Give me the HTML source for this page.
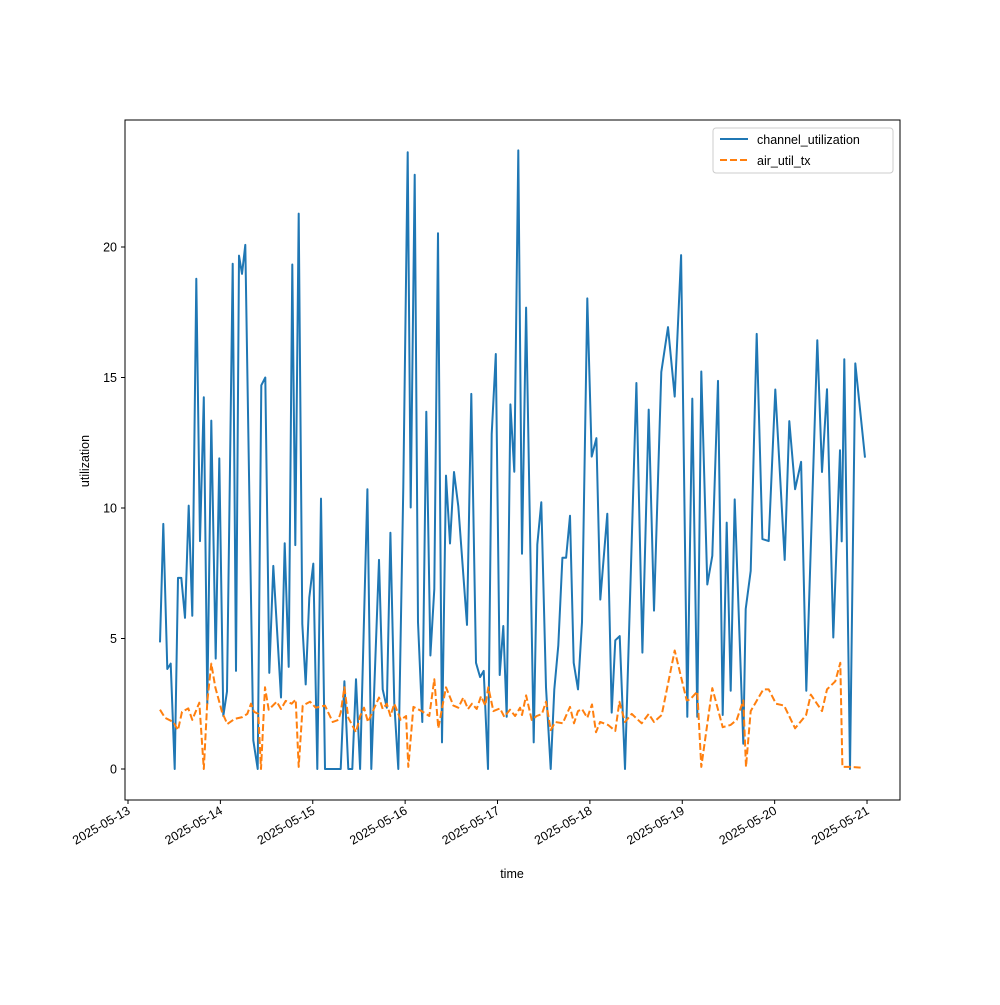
<!DOCTYPE html>
<html><head><meta charset="utf-8"><style>
body{margin:0;background:#fff}
svg text{font-family:"Liberation Sans","DejaVu Sans",sans-serif;font-size:12.5px;fill:#000}
</style></head><body>
<svg id="chart" width="1000" height="1000" viewBox="0 0 1000 1000" xmlns="http://www.w3.org/2000/svg">
<rect width="1000" height="1000" fill="#fff"/>
<g id="plot"></g>
<rect x="125" y="120" width="775" height="680" fill="none" stroke="#000" stroke-width="1"/>
<text transform="translate(89,461) rotate(-90)" text-anchor="middle">utilization</text>
<text x="512" y="878" text-anchor="middle">time</text>
<g>
<rect x="713" y="128" width="180" height="45" rx="3" fill="#fff" fill-opacity="0.8" stroke="#ccc"/>
<line x1="720" y1="139" x2="748" y2="139" stroke="#1f77b4" stroke-width="2"/>
<text x="757" y="144">channel_utilization</text>
<line x1="720" y1="160" x2="748" y2="160" stroke="#ff7f0e" stroke-width="2" stroke-dasharray="7,3"/>
<text x="757" y="165">air_util_tx</text>
</g>
</svg>
<script>
const xTickLabels=["2025-05-13","2025-05-14","2025-05-15","2025-05-16","2025-05-17","2025-05-18","2025-05-19","2025-05-20","2025-05-21"];
const yTickValues=[0,5,10,15,20];
const chTimes=[0.346,0.382,0.425,0.462,0.506,0.541,0.577,0.617,0.657,0.696,0.739,0.779,0.820,0.858,0.902,0.949,0.988,1.032,1.072,1.133,1.169,1.202,1.234,1.270,1.356,1.404,1.443,1.486,1.530,1.573,1.656,1.696,1.740,1.779,1.811,1.848,1.887,1.924,1.963,2.006,2.049,2.089,2.133,2.303,2.342,2.385,2.428,2.468,2.512,2.591,2.634,2.717,2.757,2.801,2.840,2.883,2.926,2.980,3.028,3.060,3.104,3.139,3.186,3.229,3.273,3.316,3.356,3.399,3.442,3.486,3.529,3.576,3.670,3.716,3.767,3.811,3.851,3.897,3.937,3.981,4.024,4.063,4.100,4.139,4.182,4.225,4.265,4.309,4.392,4.431,4.474,4.525,4.576,4.615,4.658,4.702,4.742,4.785,4.825,4.871,4.915,4.972,5.020,5.070,5.113,5.189,5.236,5.275,5.323,5.380,5.503,5.568,5.637,5.694,5.773,5.846,5.918,5.987,6.055,6.109,6.163,6.206,6.271,6.325,6.387,6.438,6.481,6.524,6.568,6.661,6.687,6.741,6.806,6.867,6.936,7.007,7.109,7.159,7.221,7.286,7.343,7.462,7.513,7.567,7.635,7.708,7.726,7.754,7.816,7.873,7.978];
const chValues=[4.85,9.39,3.83,4.04,0,7.32,7.32,5.79,10.09,5.87,18.78,8.73,14.24,2.5,13.35,4.23,11.9,2.03,2.97,19.36,3.76,19.67,18.97,20.08,1.1,0,14.7,15.0,3.68,7.78,2.74,8.65,3.91,19.33,8.58,21.28,5.56,3.24,6.57,7.87,0,10.36,0,0,3.36,0,0,3.44,0,10.72,0,8.01,3.05,2.35,9.05,2.5,0,10.8,23.63,10.02,22.77,5.63,1.8,13.69,4.35,6.89,20.53,1.02,11.24,8.64,11.38,10.06,5.52,14.37,4.07,3.52,3.76,0,12.83,15.9,3.6,5.48,2.0,13.97,11.39,23.7,8.25,17.68,1.02,8.6,10.22,3.13,0,3.05,4.73,8.09,8.09,9.7,4.07,3.05,5.63,18.03,11.97,12.68,6.49,9.78,2.16,4.93,5.09,0,14.79,4.46,13.77,6.07,15.21,16.93,14.27,19.69,2.0,14.19,2.0,15.23,7.07,8.17,14.87,2.07,9.44,3.0,10.33,0.97,6.13,7.59,16.67,8.81,8.73,14.54,8.01,13.33,10.72,11.77,3.0,16.43,11.38,14.55,5.04,12.21,8.72,15.7,0,15.54,11.93];
const airTimes=[0.346,0.401,0.490,0.541,0.585,0.653,0.696,0.772,0.820,0.858,0.902,0.945,1.018,1.075,1.155,1.237,1.291,1.332,1.364,1.411,1.440,1.483,1.523,1.610,1.656,1.707,1.772,1.815,1.848,1.891,1.970,2.032,2.133,2.216,2.277,2.303,2.342,2.385,2.468,2.512,2.555,2.598,2.717,2.757,2.801,2.840,2.883,2.952,3.010,3.034,3.089,3.179,3.262,3.316,3.359,3.442,3.522,3.576,3.630,3.681,3.724,3.775,3.821,3.868,3.900,3.955,4.027,4.074,4.135,4.190,4.244,4.265,4.309,4.370,4.424,4.482,4.525,4.576,4.626,4.706,4.785,4.828,4.871,4.915,4.972,5.023,5.066,5.110,5.196,5.275,5.319,5.380,5.453,5.561,5.637,5.694,5.777,5.918,6.048,6.084,6.163,6.206,6.325,6.438,6.524,6.589,6.661,6.690,6.741,6.877,6.936,7.015,7.102,7.221,7.340,7.391,7.513,7.567,7.657,7.711,7.733,7.816,7.949];
const airValues=[2.27,1.96,1.8,1.49,2.19,2.32,1.88,2.54,0.0,2.58,4.04,3.13,2.19,1.72,1.92,1.99,2.11,2.5,2.19,2.11,0,3.13,2.27,2.58,2.3,2.61,2.5,2.66,0.08,2.43,2.58,2.35,2.43,1.8,1.88,2.16,3.13,1.96,1.41,2.03,2.35,1.8,2.74,2.3,2.5,2.03,2.5,1.88,2.03,0.08,2.38,2.22,2.03,3.44,1.56,3.13,2.43,2.35,2.74,2.3,2.5,2.3,2.79,2.43,3.13,2.22,2.32,2.0,2.27,2.03,2.35,2.07,2.82,1.88,2.03,2.11,2.58,1.49,1.8,1.75,2.38,1.75,2.22,2.3,1.96,2.47,1.41,1.8,1.69,1.46,2.58,1.8,2.11,1.75,2.11,1.8,2.07,4.54,2.63,2.66,2.97,0.08,3.1,1.6,1.69,1.88,2.63,0.08,2.22,3.05,3.05,2.5,2.43,1.56,2.07,2.85,2.22,3.05,3.36,4.07,0.08,0.08,0.05];

const NS="http://www.w3.org/2000/svg";
const X0=125,X1=900,Y0=800,Y1=120;
const dMin=-0.0325,dMax=8.357,vMin=-1.188,vMax=24.866;
function xs(d){return X0+(d-dMin)/(dMax-dMin)*(X1-X0);}
function ys(v){return Y0-(v-vMin)/(vMax-vMin)*(Y0-Y1);}
const plot=document.getElementById('plot');
const svg=document.getElementById('chart');

yTickValues.forEach(v=>{
  const y=ys(v);
  const t=document.createElementNS(NS,'line');
  t.setAttribute('x1',X0-4);t.setAttribute('x2',X0);t.setAttribute('y1',y);t.setAttribute('y2',y);
  t.setAttribute('stroke','#000');
  
  
  svg.appendChild(t);
  const l=document.createElementNS(NS,'text');
  l.setAttribute('x',X0-8);l.setAttribute('y',y+4.5);l.setAttribute('text-anchor','end');
  l.textContent=String(v);
  
  
  svg.appendChild(l);
});
xTickLabels.forEach((s,i)=>{
  const x=xs(i);
  const t=document.createElementNS(NS,'line');
  t.setAttribute('x1',x);t.setAttribute('x2',x);t.setAttribute('y1',Y0);t.setAttribute('y2',Y0+4);
  t.setAttribute('stroke','#000');
  
  
  svg.appendChild(t);
  const l=document.createElementNS(NS,'text');
  l.setAttribute('transform','translate('+(x+3)+','+(Y0+13)+') rotate(-30)');
  l.setAttribute('text-anchor','end');
  l.textContent=s;
  
  
  svg.appendChild(l);
});
function series(times,vals,color,dash,name){
  const p=document.createElementNS(NS,'polyline');
  p.setAttribute('points',times.map((d,i)=>xs(d).toFixed(1)+','+ys(vals[i]).toFixed(1)).join(' '));
  p.setAttribute('fill','none');p.setAttribute('stroke',color);p.setAttribute('stroke-width','2');
  p.setAttribute('stroke-linejoin','round');
  if(dash)p.setAttribute('stroke-dasharray',dash);
  
  
  plot.appendChild(p);
}
series(chTimes,chValues,'#1f77b4',null,'channel-utilization-line');
series(airTimes,airValues,'#ff7f0e','7,3','air-util-tx-line');
</script>
</body></html>
